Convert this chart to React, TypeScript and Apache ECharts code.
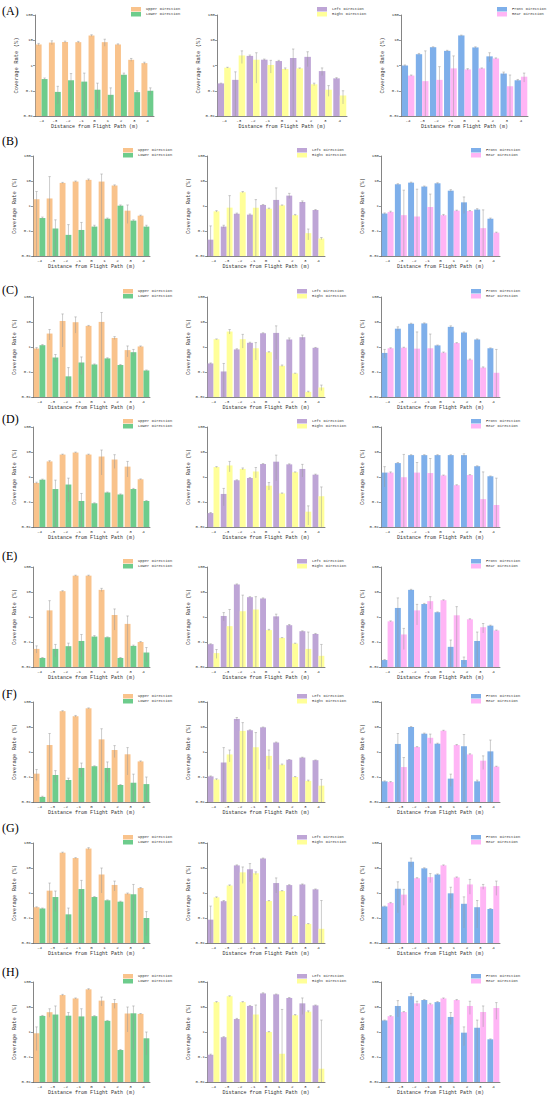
import React, { useEffect, useRef } from "react";
import * as echarts from "echarts";

const categories = ["-4", "-3", "-2", "-1", "0", "1", "2", "3", "4"];
const rowLetters = ["(A)", "(B)", "(C)", "(D)", "(E)", "(F)", "(G)", "(H)"];
const seriesNames = [
  ["Upper Direction", "Lower Direction"],
  ["Left Direction", "Right Direction"],
  ["Front Direction", "Rear Direction"],
];
const seriesColors = [
  ["#F9C38C", "#6DCC8C"],
  ["#BEA5D6", "#FFFF99"],
  ["#7EAFEA", "#FFB5F5"],
];

// ---- Row A ----
const upperA = [6.8, 8.1, 8.6, 8.4, 15.4, 8.4, 6.8, 1.68, 1.24];
const upperA_hi = [7.5, 9.5, 9.2, 9.0, 16.5, 11, 7.2, 1.9, 1.35];
const lowerA = [0.29, 0.09, 0.26, 0.23, 0.11, 0.069, 0.43, 0.088, 0.1];
const lowerA_hi = [0.32, 0.15, 0.48, 0.5, 0.2, 0.13, 0.5, 0.1, 0.13];
const leftA = [0.195, 0.27, 2.4, 1.7, 1.5, 1.98, 2.2, 0.6, 0.31];
const leftA_hi = [0.2, 0.56, 2.6, 1.8, 1.6, 4.5, 3.5, 0.8, 0.33];
const rightA = [0.82, 2.5, 1.7, 1.05, 0.73, 0.77, 0.18, 0.11, 0.065];
const rightA_hi = [0.85, 3.8, 3.2, 1.6, 0.8, 0.8, 0.2, 0.16, 0.1];
const frontA = [1.0, 2.8, 5.3, 3.8, 15.5, 5.2, 2.3, 0.48, 0.26];
const frontA_hi = [1.05, 3.0, 5.5, 4.0, 16, 5.5, 3.2, 0.55, 0.28];
const rearA = [0.4, 0.24, 0.27, 0.77, 0.7, 0.77, 1.9, 0.15, 0.36];
const rearA_hi = [0.42, 3.8, 0.9, 2.4, 0.75, 0.8, 2.0, 0.42, 0.5];

// ---- Row B ----
const upperB = [1.86, 2.0, 8.4, 9.5, 11.1, 9.5, 6.6, 0.65, 0.41];
const upperB_hi = [3.8, 15, 8.8, 10, 12, 19, 7.0, 1.1, 0.43];
const lowerB = [0.33, 0.126, 0.07, 0.11, 0.15, 0.31, 1.03, 0.26, 0.15];
const lowerB_hi = [0.36, 0.28, 0.18, 0.22, 0.17, 0.33, 1.1, 0.28, 0.17];
const leftB = [0.045, 0.15, 0.49, 0.45, 1.1, 1.75, 2.6, 1.45, 0.69];
const leftB_hi = [0.16, 0.17, 0.52, 0.48, 1.15, 5.3, 3.2, 1.6, 0.72];
const rightB = [0.61, 0.86, 3.55, 0.86, 0.78, 1.06, 0.43, 0.082, 0.05];
const rightB_hi = [0.65, 2.6, 3.8, 1.8, 0.82, 1.1, 0.46, 0.12, 0.055];
const frontB = [0.5, 7.4, 8.6, 6.0, 8.1, 4.1, 1.4, 0.72, 0.31];
const frontB_hi = [0.53, 7.8, 9.0, 6.3, 8.5, 4.5, 2.3, 0.78, 0.33];
const rearB = [0.58, 0.43, 0.38, 0.91, 0.43, 0.65, 0.63, 0.13, 0.086];
const rearB_hi = [0.62, 4.3, 4.7, 3.0, 0.46, 0.68, 0.66, 0.7, 0.09];

// ---- Row C ----
const upperC = [0.87, 3.45, 11, 9.8, 7.0, 10.1, 2.3, 0.75, 1.05];
const upperC_hi = [0.95, 5.0, 21, 16, 7.3, 24, 2.6, 1.1, 1.1];
const lowerC = [1.18, 0.38, 0.067, 0.24, 0.2, 0.35, 0.19, 0.62, 0.115];
const lowerC_hi = [1.25, 0.5, 0.15, 0.4, 0.21, 0.37, 0.2, 0.8, 0.12];
const leftC = [0.22, 0.105, 0.8, 1.47, 3.55, 3.66, 2.0, 2.47, 0.93];
const leftC_hi = [0.23, 0.22, 0.85, 1.55, 3.7, 7.0, 2.3, 3.0, 0.96];
const rightC = [2.05, 4.15, 2.05, 0.9, 0.62, 0.177, 0.088, 0.016, 0.024];
const rightC_hi = [2.1, 5.0, 3.2, 1.5, 0.65, 0.19, 0.09, 0.017, 0.03];
const frontC = [0.58, 5.4, 8.5, 8.8, 1.16, 6.4, 3.8, 2.0, 0.89];
const frontC_hi = [0.8, 6.4, 8.9, 9.2, 1.2, 7.0, 4.0, 2.1, 0.92];
const rearC = [0.89, 0.94, 0.86, 0.89, 0.6, 1.44, 0.31, 0.15, 0.093];
const rearC_hi = [0.93, 0.98, 4.0, 3.3, 0.63, 1.5, 0.33, 0.16, 0.8];

// ---- Row D ----
const upperD = [0.58, 4.2, 7.9, 9.5, 7.9, 6.6, 5.0, 2.6, 0.81];
const upperD_hi = [0.62, 4.5, 8.2, 9.9, 8.2, 12, 7.8, 4.2, 0.84];
const lowerD = [0.78, 0.33, 0.5, 0.11, 0.089, 0.24, 0.2, 0.33, 0.11];
const lowerD_hi = [0.82, 0.75, 0.9, 0.22, 0.093, 0.25, 0.21, 0.35, 0.115];
const leftD = [0.036, 0.21, 0.74, 0.91, 3.3, 4.1, 3.2, 2.1, 1.24];
const leftD_hi = [0.038, 0.35, 0.77, 0.95, 3.45, 7.5, 3.35, 3.2, 1.3];
const rightD = [2.5, 2.9, 2.1, 1.66, 0.45, 0.22, 1.55, 0.041, 0.17];
const rightD_hi = [2.6, 4.2, 2.3, 2.4, 0.6, 0.23, 1.6, 0.07, 0.4];
const frontD = [1.5, 3.6, 7.5, 7.5, 7.5, 7.5, 7.5, 2.7, 1.07];
const frontD_hi = [2.6, 3.8, 7.8, 7.8, 7.8, 7.8, 8.5, 2.8, 1.1];
const rearD = [1.5, 0.98, 1.5, 1.44, 1.16, 0.47, 1.2, 0.13, 0.076];
const rearD_hi = [1.6, 8.0, 3.8, 5.5, 1.2, 0.49, 1.25, 1.6, 0.9];

// ---- Row E ----
const upperE = [0.053, 1.84, 10.8, 45, 45, 12.2, 1.2, 0.53, 0.1];
const upperE_hi = [0.07, 4.5, 11.3, 47, 47, 14, 2.1, 1.1, 0.105];
const lowerE = [0.023, 0.053, 0.068, 0.11, 0.165, 0.155, 0.023, 0.07, 0.038];
const lowerE_hi = [0.024, 0.08, 0.09, 0.2, 0.18, 0.16, 0.024, 0.075, 0.06];
const leftE = [0.082, 1.1, 20, 6.2, 5.5, 1.06, 0.47, 0.27, 0.21];
const leftE_hi = [0.085, 1.5, 21, 6.5, 5.8, 1.3, 0.5, 0.28, 0.22];
const rightE = [0.036, 0.43, 1.7, 2.0, 0.3, 0.146, 0.087, 0.053, 0.028];
const rightE_hi = [0.05, 2.0, 7.5, 6.5, 0.32, 0.15, 0.09, 0.25, 0.08];
const frontE = [0.019, 2.3, 12.2, 3.3, 1.55, 0.064, 0.019, 0.11, 0.45];
const frontE_hi = [0.02, 5.8, 12.8, 3.5, 1.6, 0.12, 0.025, 0.25, 0.47];
const rearE = [0.67, 0.2, 1.84, 4.3, 4.7, 1.17, 0.81, 0.39, 0.29];
const rearE_hi = [0.7, 0.35, 3.2, 6.5, 4.9, 2.6, 0.85, 0.55, 0.3];

// ---- Row F ----
const upperF = [0.136, 1.9, 43, 27, 56, 3.2, 1.2, 0.81, 0.42];
const upperF_hi = [0.2, 5.5, 45, 29, 58, 8.5, 1.8, 1.5, 0.44];
const lowerF = [0.016, 0.12, 0.076, 0.23, 0.27, 0.23, 0.048, 0.059, 0.052];
const lowerF_hi = [0.017, 0.18, 0.09, 0.36, 0.28, 0.4, 0.05, 0.13, 0.1];
const leftF = [0.106, 0.38, 21, 7.4, 9.7, 2.4, 0.49, 0.6, 0.47];
const leftF_hi = [0.11, 1.5, 24, 7.7, 10, 2.5, 0.5, 0.62, 0.48];
const rightF = [0.08, 0.8, 7, 1.56, 0.7, 0.31, 0.1, 0.07, 0.045];
const rightF_hi = [0.085, 1.2, 15, 6.0, 1.2, 0.33, 0.105, 0.075, 0.08];
const frontF = [0.067, 2.1, 10, 5.4, 2.15, 0.086, 1.7, 0.067, 1.06];
const frontF_hi = [0.07, 5.5, 10.5, 5.7, 2.25, 0.13, 5.0, 0.075, 3.0];
const rearF = [0.063, 0.25, 1.58, 3.7, 7.1, 1.9, 0.8, 0.45, 0.26];
const rearF_hi = [0.066, 0.6, 1.65, 5.2, 7.4, 2.0, 0.85, 0.7, 0.27];

// ---- Row G ----
const upperG = [0.27, 1.24, 41, 25, 60, 5.5, 2.1, 0.94, 1.58];
const upperG_hi = [0.28, 2.5, 43, 26, 65, 10, 3.0, 1.0, 1.65];
const lowerG = [0.24, 0.69, 0.14, 1.44, 0.69, 0.51, 0.45, 0.89, 0.1];
const lowerG_hi = [0.25, 1.2, 0.25, 3.2, 0.72, 0.53, 0.47, 2.2, 0.18];
const leftG = [0.086, 0.47, 12.7, 8.9, 24, 2.5, 2.07, 2.2, 1.4];
const leftG_hi = [0.3, 0.5, 13.3, 15, 25, 4.0, 2.15, 2.3, 1.45];
const rightG = [0.67, 2.0, 6.7, 6.2, 0.48, 1.2, 0.12, 0.058, 0.037];
const rightG_hi = [0.7, 2.1, 11, 7.0, 0.5, 1.25, 0.125, 0.06, 0.5];
const frontG = [0.29, 1.48, 17.8, 9.7, 5.5, 0.97, 0.37, 0.27, 0.23];
const frontG_hi = [0.3, 2.8, 25, 10.2, 5.8, 1.7, 0.7, 0.5, 0.24];
const rearG = [0.4, 0.86, 3.9, 4.3, 12.8, 4.2, 2.2, 1.8, 1.9];
const rearG_hi = [0.42, 1.4, 4.1, 6.0, 13.3, 4.4, 3.5, 2.2, 3.0];

// ---- Row H ----
const upperH = [0.89, 6.2, 30, 22, 51, 18, 14.4, 5.5, 5.3];
const upperH_hi = [1.6, 8.5, 32, 23, 54, 25, 20, 10, 5.5];
const lowerH = [4.4, 5.0, 4.5, 4.2, 4.3, 2.8, 0.19, 5.6, 0.56];
const lowerH_hi = [4.6, 11, 6.0, 8.5, 4.5, 2.9, 0.2, 11, 1.0];
const leftH = [0.123, 0.62, 3.3, 11, 35, 32, 23, 14, 11.6];
const leftH_hi = [0.13, 0.65, 3.5, 11.5, 37, 33, 24, 23, 12];
const rightH = [15.7, 27, 15.7, 5.0, 1.0, 0.135, 4.7, 6.5, 0.034];
const rightH_hi = [16.5, 28, 16.5, 12, 1.05, 8.0, 5.0, 7.0, 3.0];
const frontH = [2.9, 11, 27, 19, 15.7, 4.0, 0.94, 1.48, 0.51];
const frontH_hi = [3.0, 18, 35, 20, 16.5, 6.0, 1.6, 3.0, 0.53];
const rearH = [4.3, 6.3, 14, 12.9, 22, 19, 11, 6.3, 9.1];
const rearH_hi = [4.5, 6.6, 17, 14, 23, 20, 17, 11, 15];

const rows = [
  [upperA, upperA_hi, lowerA, lowerA_hi, leftA, leftA_hi, rightA, rightA_hi, frontA, frontA_hi, rearA, rearA_hi],
  [upperB, upperB_hi, lowerB, lowerB_hi, leftB, leftB_hi, rightB, rightB_hi, frontB, frontB_hi, rearB, rearB_hi],
  [upperC, upperC_hi, lowerC, lowerC_hi, leftC, leftC_hi, rightC, rightC_hi, frontC, frontC_hi, rearC, rearC_hi],
  [upperD, upperD_hi, lowerD, lowerD_hi, leftD, leftD_hi, rightD, rightD_hi, frontD, frontD_hi, rearD, rearD_hi],
  [upperE, upperE_hi, lowerE, lowerE_hi, leftE, leftE_hi, rightE, rightE_hi, frontE, frontE_hi, rearE, rearE_hi],
  [upperF, upperF_hi, lowerF, lowerF_hi, leftF, leftF_hi, rightF, rightF_hi, frontF, frontF_hi, rearF, rearF_hi],
  [upperG, upperG_hi, lowerG, lowerG_hi, leftG, leftG_hi, rightG, rightG_hi, frontG, frontG_hi, rearG, rearG_hi],
  [upperH, upperH_hi, lowerH, lowerH_hi, leftH, leftH_hi, rightH, rightH_hi, frontH, frontH_hi, rearH, rearH_hi],
];

// ---- layout ----
const rowTops = [15, 156, 297, 427, 567, 702, 843, 982];
const rowLabelY = [12, 142, 291, 420, 557, 695, 829, 973];
const gridHeight = 100;
const colLeftA = [35, 217, 401];
const colWidthA = [119, 130, 127];
const colLeft = [33, 207, 381];
const colWidth = [117, 118, 119];
const MONO = "'Liberation Mono', 'DejaVu Sans Mono', monospace";
const SERIF = "'Liberation Serif', 'Times New Roman', serif";
const AX = "#333";

function makeRender(side: number, color: string) {
  return (params: any, api: any) => {
    const i = api.value(0);
    const v = api.value(1);
    const hi = api.value(2);
    const p = api.coord([i, v]);
    const base = api.coord([i, 0.01]);
    const band = Math.abs(api.coord([1, 1])[0] - api.coord([0, 1])[0]);
    const bw = band * 0.45;
    const x0 = side === 0 ? p[0] - bw : p[0];
    const cx = x0 + bw / 2;
    const children: any[] = [
      {
        type: "rect",
        shape: { x: x0, y: p[1], width: bw, height: base[1] - p[1] },
        style: { fill: color },
      },
    ];
    if (hi > v) {
      const lo = Math.max(2 * v - hi, 0.01);
      const pHi = api.coord([i, hi]);
      const pLo = api.coord([i, lo]);
      children.push({
        type: "line",
        shape: { x1: cx, y1: pHi[1], x2: cx, y2: pLo[1] },
        style: { stroke: "#999999", lineWidth: 0.5 },
      });
      children.push({
        type: "line",
        shape: { x1: cx - 1.2, y1: pHi[1], x2: cx + 1.2, y2: pHi[1] },
        style: { stroke: "#999999", lineWidth: 0.5 },
      });
    }
    return { type: "group", children };
  };
}

function buildOption() {
  const grid: any[] = [];
  const xAxis: any[] = [];
  const yAxis: any[] = [];
  const series: any[] = [];
  const legend: any[] = [];
  const graphic: any[] = [];

  for (let r = 0; r < 8; r++) {
    graphic.push({
      type: "text",
      left: 2,
      top: rowLabelY[r] - 7,
      style: { text: rowLetters[r], fontSize: 12, fontFamily: SERIF, fill: "#000" },
    });
    for (let c = 0; c < 3; c++) {
      const gi = r * 3 + c;
      const left = r === 0 ? colLeftA[c] : colLeft[c];
      const width = r === 0 ? colWidthA[c] : colWidth[c];
      const top = rowTops[r];
      grid.push({ left, top, width, height: r === 0 ? 101 : gridHeight });
      xAxis.push({
        gridIndex: gi,
        type: "category",
        data: categories,
        axisLine: { lineStyle: { color: AX, width: 0.6 } },
        axisTick: { alignWithLabel: true, length: 2, lineStyle: { color: AX, width: 0.5 } },
        axisLabel: { fontSize: 4.2, margin: 2.5, fontFamily: MONO, color: AX },
        name: "Distance from Flight Path (m)",
        nameLocation: "middle",
        nameGap: 8.5,
        nameTextStyle: { fontSize: 5, fontFamily: MONO, color: AX },
      });
      yAxis.push({
        gridIndex: gi,
        type: "log",
        logBase: 10,
        min: 0.01,
        max: 100,
        axisLine: { show: true, lineStyle: { color: AX, width: 0.6 } },
        axisTick: { show: true, length: 2, lineStyle: { color: AX, width: 0.5 } },
        splitLine: { show: false },
        axisLabel: { show: true, fontSize: 4, margin: 2, fontFamily: MONO, color: AX },
        name: "Coverage Rate (%)",
        nameLocation: "middle",
        nameGap: 11,
        nameTextStyle: { fontSize: 5.5, fontFamily: MONO, color: AX },
      });
      const names = seriesNames[c];
      const colors = seriesColors[c];
      for (let s = 0; s < 2; s++) {
        const vals = rows[r][c * 4 + s * 2];
        const his = rows[r][c * 4 + s * 2 + 1];
        series.push({
          type: "custom",
          name: names[s],
          xAxisIndex: gi,
          yAxisIndex: gi,
          itemStyle: { color: colors[s] },
          encode: { x: 0, y: 1 },
          data: vals.map((v, i) => [i, v, his[i]]),
          renderItem: makeRender(s, colors[s]),
        });
      }
      legend.push({
        data: names,
        left: left + (r === 0 ? (c === 1 ? 100 : 96) : 90),
        top: top - 8,
        orient: "vertical",
        icon: "rect",
        itemWidth: 10,
        itemHeight: 4.5,
        itemGap: 0.5,
        padding: 0,
        selectedMode: false,
        textStyle: { fontSize: 3.8, fontFamily: MONO, color: AX },
      });
    }
  }

  return {
    animation: false,
    backgroundColor: "#ffffff",
    grid,
    xAxis,
    yAxis,
    series,
    legend,
    graphic,
  };
}

export default function App() {
  const ref = useRef<HTMLDivElement>(null);
  useEffect(() => {
    document.body.style.margin = "0";
    const chart = echarts.init(ref.current!, undefined, { renderer: "svg" });
    chart.setOption(buildOption() as any);
    return () => chart.dispose();
  }, []);
  return <div ref={ref} style={{ width: 550, height: 1103 }} />;
}
